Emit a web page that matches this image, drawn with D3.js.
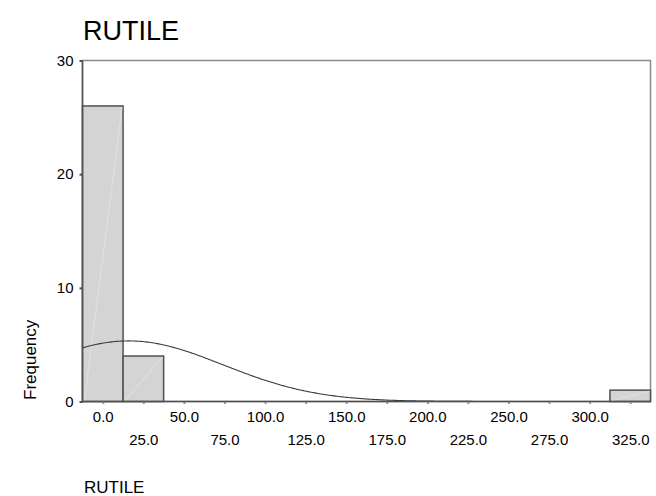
<!DOCTYPE html>
<html><head><meta charset="utf-8">
<script src="https://cdn.jsdelivr.net/npm/d3@7"></script>
<style>body{margin:0;background:#fff}svg{display:block}text{font-family:"Liberation Sans",Arial,sans-serif;fill:#000}</style>
</head><body>
<script>
// Data
const binCenters = [0, 25, 325];
const binCounts = [26, 4, 1];
const binWidth = 25;
const xTickValues = [0,25,50,75,100,125,150,175,200,225,250,275,300,325];
const yTickValues = [0,10,20,30];
const statMean = 16;
const statSD = 58;
const statN = 31;
const titleText = "RUTILE";
const xLabel = "RUTILE";
const yLabel = "Frequency";

const W = 656, H = 496;
const svg = d3.select("body").append("svg").attr("width", W).attr("height", H);

const x = d3.scaleLinear().domain([-12.5, 337.5]).range([82.5, 650.5]);
const y = d3.scaleLinear().domain([0, 30]).range([401.5, 60.5]);

// frame
svg.append("rect").attr("x", x.range()[0]).attr("y", y(30))
  .attr("width", x.range()[1]-x.range()[0]).attr("height", y(0)-y(30))
  .attr("fill", "none").attr("stroke", "#8a8a8a").attr("stroke-width", 1.5);

// bars
const bars = svg.append("g");
binCenters.forEach((c, i) => {
  const x0 = x(c - binWidth/2), x1 = x(c + binWidth/2), y0 = y(binCounts[i]);
  bars.append("rect").attr("x", x0).attr("y", y0).attr("width", x1-x0).attr("height", y(0)-y0)
    .attr("fill", "#d4d4d4").attr("stroke", "#505050").attr("stroke-width", 1.5);
  bars.append("line").attr("x1", x0+2).attr("y1", y(0)-1).attr("x2", x1-1).attr("y2", y0+1)
    .attr("stroke", "#e4e4e4").attr("stroke-width", 0.8);
});

// normal curve (fitted from mean, sd, N)
const pts = d3.range(-12.5, 337.6, 1).map(v => [v, statN*binWidth*Math.exp(-((v-statMean)**2)/(2*statSD*statSD))/(statSD*Math.sqrt(2*Math.PI))]);
svg.append("path").datum(pts)
  .attr("d", d3.line().x(d => x(d[0])).y(d => y(d[1])))
  .attr("fill", "none").attr("stroke", "#3a3a3a").attr("stroke-width", 1.1);

// axes lines
svg.append("line").attr("x1", x.range()[0]).attr("x2", x.range()[0]).attr("y1", y(30)).attr("y2", y(0)+1)
  .attr("stroke", "#505050").attr("stroke-width", 1.5);
svg.append("line").attr("x1", x.range()[0]).attr("x2", x.range()[1]).attr("y1", y(0)).attr("y2", y(0))
  .attr("stroke", "#505050").attr("stroke-width", 1.5);

// y axis
const yAxis = d3.axisLeft(y).tickValues(yTickValues).tickSize(3).tickPadding(6).tickFormat(d3.format("d"));
const gy = svg.append("g").attr("transform", `translate(${x.range()[0]},0)`).call(yAxis);
gy.select(".domain").remove();
gy.selectAll(".tick line").attr("stroke", "#505050").attr("stroke-width", 2);
gy.selectAll("text").attr("font-size", 15).style("font-family", '"Liberation Sans",Arial,sans-serif');

// x axis
const xAxis = d3.axisBottom(x).tickValues(xTickValues).tickSize(2).tickPadding(0).tickFormat(d3.format(".1f"));
const gx = svg.append("g").attr("transform", `translate(0,${y(0)+0.5})`).call(xAxis);
gx.select(".domain").remove();
gx.selectAll(".tick line").attr("stroke", "#909090").attr("stroke-width", 2);
gx.selectAll(".tick text").attr("font-size", 15).style("font-family", '"Liberation Sans",Arial,sans-serif')
  .attr("dy", null)
  .attr("y", (d, i) => i % 2 === 0 ? 19.5 : 43);

// titles
svg.append("text").attr("x", 83).attr("y", 40).attr("font-size", 27).text(titleText);
svg.append("text").attr("x", 84).attr("y", 493).attr("font-size", 17).text(xLabel);
svg.append("text").attr("transform", "translate(36,400) rotate(-90)").attr("font-size", 17).text(yLabel);
</script>
</body></html>
